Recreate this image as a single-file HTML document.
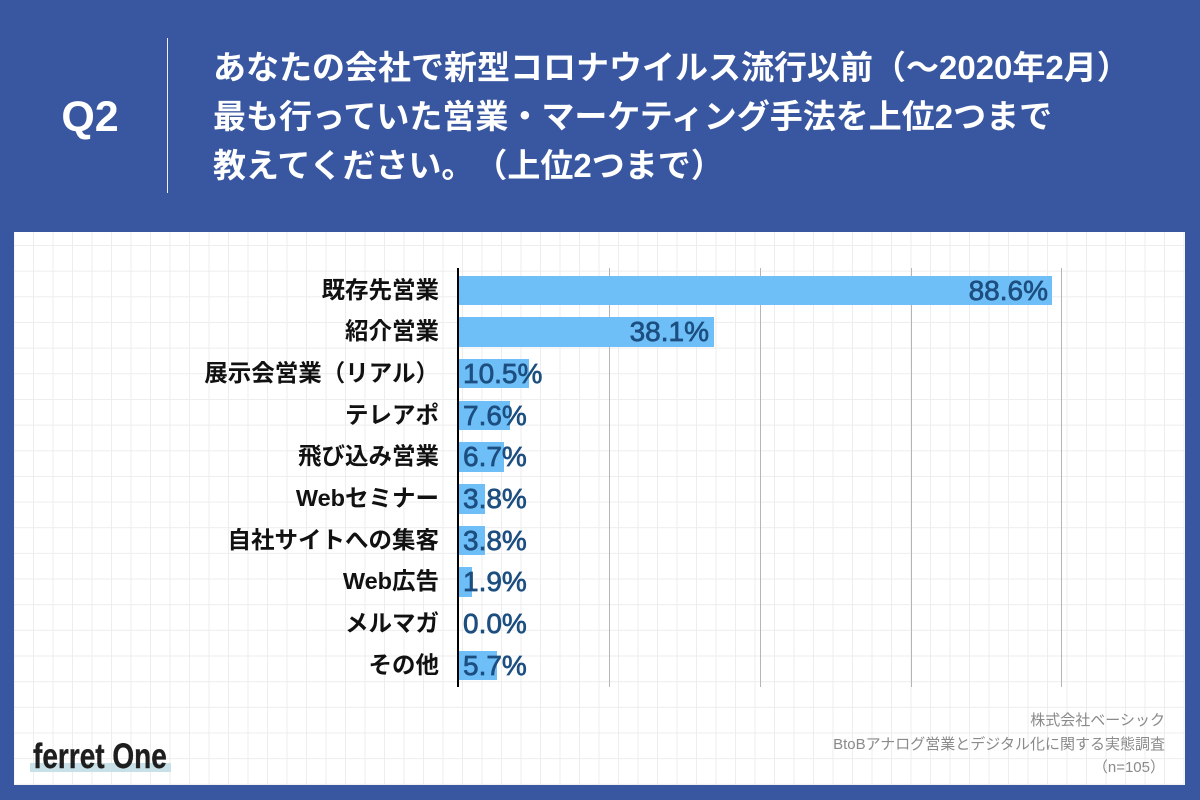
<!DOCTYPE html>
<html><head><meta charset="utf-8">
<style>
*{margin:0;padding:0;box-sizing:border-box}
html,body{width:1200px;height:800px;overflow:hidden}
body{background:#3957a0;position:relative;font-family:"Liberation Sans","Noto Sans CJK JP",sans-serif;text-spacing-trim:space-all}
.abs{position:absolute}
#q2{left:40px;top:92px;width:100px;height:50px;line-height:50px;text-align:center;color:#fff;font-weight:700;font-size:43px}
#div{left:166.5px;top:38px;width:1.5px;height:155px;background:#f0f0f0}
#title{left:213px;top:43px;color:#fff;font-weight:700;font-size:33px;line-height:49.2px;white-space:nowrap;text-spacing-trim:space-all;font-feature-settings:"halt" 0,"chws" 0}
#panel{left:14px;top:232px;width:1171px;height:553px;background-color:#fff;
background-image:linear-gradient(to right,#ededed 1px,transparent 1px),linear-gradient(to bottom,#ededed 1px,transparent 1px);
background-size:19.5px 25.67px;background-position:19px 13px}
.gl{position:absolute;top:268px;height:419px;width:1px;background:#b5b5b5}
#axis{left:457px;top:268px;height:419px;width:2px;background:#000}
.bar{position:absolute;left:459px;height:29.5px;background:#6ebff7}
.cat{position:absolute;right:761px;height:29.5px;line-height:29.5px;font-size:23.5px;font-weight:700;color:#111;white-space:nowrap;text-align:right}
.val{position:absolute;height:29.5px;line-height:29.5px;font-size:28px;color:#1c4e80;white-space:nowrap;-webkit-text-stroke:0.7px #1c4e80}
#foot{right:35px;top:709px;text-align:right;font-size:15px;line-height:23.5px;color:#8a8a8a;white-space:nowrap}
#hl{left:30px;top:763px;width:141px;height:9px;background:#c8e0e8}
#logo{left:33px;top:739px;font-size:35px;line-height:36px;font-weight:700;color:#1e1e1e;transform:scaleX(0.8);transform-origin:left center;white-space:nowrap;-webkit-text-stroke:0.4px #1e1e1e}
</style></head><body>
<div class="abs" id="q2">Q2</div>
<div class="abs" id="div"></div>
<div class="abs" id="title">あなたの会社で新型コロナウイルス流行以前（〜2020年2月）<br>最も行っていた営業・マーケティング手法を上位2つまで<br>教えてください。（上位2つまで）</div>
<div class="abs" id="panel"></div>

<div class="gl" style="left:608.5px"></div>
<div class="gl" style="left:759.5px"></div>
<div class="gl" style="left:910.5px"></div>
<div class="gl" style="left:1060.5px"></div>

<div class="bar" style="top:275.5px;width:592.6px"></div>
<div class="bar" style="top:317.2px;width:255.3px"></div>
<div class="bar" style="top:358.9px;width:70.4px"></div>
<div class="bar" style="top:400.6px;width:50.9px"></div>
<div class="bar" style="top:442.3px;width:44.9px"></div>
<div class="bar" style="top:484px;width:25.5px"></div>
<div class="bar" style="top:525.7px;width:25.5px"></div>
<div class="bar" style="top:567.4px;width:12.7px"></div>
<div class="bar" style="top:609.1px;width:0px"></div>
<div class="bar" style="top:650.8px;width:38.2px"></div>

<div id="axis" class="abs"></div>

<div class="cat" style="top:275.5px">既存先営業</div>
<div class="cat" style="top:317.2px">紹介営業</div>
<div class="cat" style="top:358.9px">展示会営業（リアル）</div>
<div class="cat" style="top:400.6px">テレアポ</div>
<div class="cat" style="top:442.3px">飛び込み営業</div>
<div class="cat" style="top:484px">Webセミナー</div>
<div class="cat" style="top:525.7px">自社サイトへの集客</div>
<div class="cat" style="top:567.4px">Web広告</div>
<div class="cat" style="top:609.1px">メルマガ</div>
<div class="cat" style="top:650.8px">その他</div>

<div class="val" style="top:275.5px;right:152px">88.6%</div>
<div class="val" style="top:317.2px;right:491px">38.1%</div>
<div class="val" style="top:358.9px;left:463px">10.5%</div>
<div class="val" style="top:400.6px;left:463px">7.6%</div>
<div class="val" style="top:442.3px;left:463px">6.7%</div>
<div class="val" style="top:484px;left:463px">3.8%</div>
<div class="val" style="top:525.7px;left:463px">3.8%</div>
<div class="val" style="top:567.4px;left:463px">1.9%</div>
<div class="val" style="top:609.1px;left:463px">0.0%</div>
<div class="val" style="top:650.8px;left:463px">5.7%</div>

<div class="abs" id="foot">株式会社ベーシック<br>BtoBアナログ営業とデジタル化に関する実態調査<br>（n=105）</div>

<div class="abs" id="hl"></div>
<div class="abs" id="logo">ferret One</div>
</body></html>
